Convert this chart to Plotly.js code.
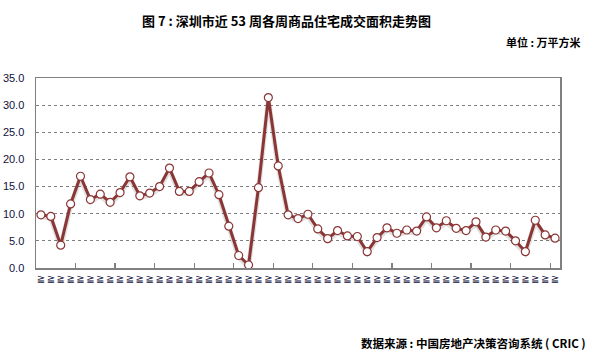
<!DOCTYPE html>
<html><head><meta charset="utf-8">
<script src="https://cdn.plot.ly/plotly-3.0.1.min.js"></script>
<style>html,body{margin:0;padding:0;background:#fff}#chart{width:596px;height:357px}</style>
</head><body><div id="chart"></div>
<script>
const weeks = Array.from({length:53}, (_, i) => 'W' + (i + 1));
const tickLabel = '≧';
const areaValues = [9.8, 9.5, 4.2, 11.8, 16.9, 12.6, 13.6, 12.1, 13.9, 16.8,
  13.3, 13.8, 15.0, 18.4, 14.1, 14.1, 15.9, 17.5, 13.5, 7.7,
  2.3, 0.55, 14.8, 31.4, 18.8, 9.8, 9.1, 9.9, 7.2, 5.4,
  6.9, 5.9, 5.8, 3.0, 5.6, 7.4, 6.4, 7.0, 6.8, 9.4,
  7.4, 8.7, 7.3, 6.9, 8.5, 5.7, 7.0, 6.8, 5.0, 3.0,
  8.8, 6.1, 5.5];
const titleText = '图 7 : 深圳市近 53 周各周商品住宅成交面积走势图';
const unitText = '单位 : 万平方米';
const sourceText = '数据来源 : 中国房地产决策咨询系统 ( CRIC )';

const idx = weeks.map((w, i) => i);
const boundaryTicks = idx.filter(i => i % 4 === 3 && i < 52).map(i => i + 0.5);

const traces = [
  {x: idx, y: areaValues.map(v => v - 0.35), mode: 'lines', xaxis: 'x', yaxis: 'y',
   line: {color: 'rgba(0,0,0,0.12)', width: 5}, hoverinfo: 'skip', showlegend: false},
  {x: idx, y: areaValues, mode: 'lines+markers', xaxis: 'x', yaxis: 'y',
   line: {color: '#8b3535', width: 3},
   marker: {symbol: 'circle', size: 8, color: '#ffffff', line: {color: '#8b3535', width: 1.2}},
   showlegend: false},
  {x: [], y: [], xaxis: 'x2', yaxis: 'y', showlegend: false}
];

const layout = {
  width: 596, height: 357,
  margin: {l: 36, r: 36, t: 78, b: 89},
  paper_bgcolor: '#fff', plot_bgcolor: '#fff',
  font: {family: 'Liberation Sans, Arial, sans-serif', color: '#000'},
  showlegend: false,
  xaxis: {
    range: [-0.5, 52.5], tickmode: 'array', tickvals: idx, ticktext: idx.map(() => tickLabel),
    ticks: '', showgrid: false, zeroline: false,
    showline: true, linecolor: '#808080', linewidth: 1.5, mirror: true,
    tickfont: {size: 10, family: 'DejaVu Sans', color: '#101040'}, tickangle: 0
  },
  xaxis2: {
    overlaying: 'x', range: [-0.5, 52.5], tickmode: 'array', tickvals: boundaryTicks,
    ticks: 'inside', ticklen: 5, tickcolor: '#808080', tickwidth: 1.2,
    showticklabels: false, showgrid: false, zeroline: false, showline: false
  },
  yaxis: {
    range: [0, 35], dtick: 5, tick0: 0, tickformat: '.1f',
    showgrid: true, gridcolor: '#808080', griddash: 'dot', gridwidth: 1,
    zeroline: false, showline: true, linecolor: '#808080', linewidth: 1.5, mirror: true,
    ticks: '', ticklabelstandoff: 8,
    tickfont: {size: 11, family: 'Liberation Sans, Arial, sans-serif', color: '#101040'}
  },
  annotations: [
    {text: '<b>' + titleText + '</b>', xref: 'paper', yref: 'paper', x: 0.478, y: 1, xanchor: 'center', yanchor: 'middle',
     yshift: 58, showarrow: false, font: {size: 13, family: 'Noto Sans CJK SC', color: '#000'}},
    {text: '<b>' + unitText + '</b>', xref: 'paper', yref: 'paper', x: 1, y: 1, xanchor: 'right', yanchor: 'middle',
     xshift: 23, yshift: 36, showarrow: false, font: {size: 11, family: 'Noto Sans CJK SC', color: '#000'}},
    {text: '<b>' + sourceText + '</b>', xref: 'paper', yref: 'paper', x: 1, y: 0, xanchor: 'right', yanchor: 'middle',
     xshift: 28, yshift: -75, showarrow: false, font: {size: 11.5, family: 'Noto Sans CJK SC', color: '#000'}}
  ]
};
Plotly.newPlot('chart', traces, layout, {displayModeBar: false, staticPlot: true});
</script></body></html>
